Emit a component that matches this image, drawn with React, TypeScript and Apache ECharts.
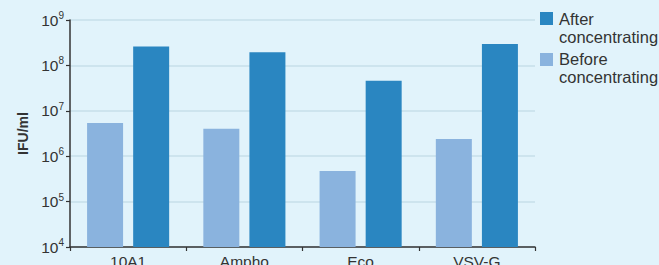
import React, { useEffect, useRef } from "react";
import * as echarts from "echarts";

const categories = ["10A1", "Ampho", "Eco", "VSV-G"];
const beforeValues = [5.4e6, 4.0e6, 4.7e5, 2.4e6];
const afterValues = [2.6e8, 1.94e8, 4.6e7, 2.96e8];
const legendLabels = ["After\nconcentrating", "Before\nconcentrating"];
const yName = "IFU/ml";

const BG = "#E1F3FB";
const C_AFTER = "#2A86C1";
const C_BEFORE = "#8AB3DE";
const TXT = "#333333";
const FONT = "'Liberation Sans', Arial, Helvetica, sans-serif";

export default function App() {
  const ref = useRef<HTMLDivElement>(null);
  useEffect(() => {
    document.body.style.margin = "0";
    const chart = echarts.init(ref.current!, null, { renderer: "svg" });
    chart.setOption({
      animation: false,
      backgroundColor: BG,
      textStyle: { fontFamily: FONT },
      grid: {
        left: 70,
        top: 20,
        right: 124,
        bottom: 18,
        containLabel: false,
        outerBoundsMode: "none",
      },
      xAxis: {
        type: "category",
        data: categories,
        axisLine: { lineStyle: { color: TXT, width: 1.5 } },
        axisTick: { show: true, length: 4, lineStyle: { color: TXT, width: 1.2 } },
        axisLabel: { color: TXT, fontSize: 15.5, margin: 6, fontFamily: FONT },
      },
      yAxis: {
        type: "log",
        logBase: 10,
        min: 1e4,
        max: 1e9,
        name: yName,
        nameLocation: "middle",
        nameGap: 38,
        nameTextStyle: { color: TXT, fontSize: 14, fontWeight: "bold", fontFamily: FONT },
        axisLine: { show: true, lineStyle: { color: TXT, width: 1.5 } },
        axisTick: { show: true, length: 4, lineStyle: { color: TXT, width: 1.2 } },
        splitLine: { show: true, lineStyle: { color: "#C6DFEA", width: 1.5 } },
        minorTick: { show: false },
        axisLabel: {
          margin: 6,
          formatter: (v: number) => {
            const e = Math.round(Math.log10(v));
            return `{b|10}{s|${e}}`;
          },
          rich: {
            b: { fontSize: 15.5, color: TXT, fontFamily: FONT },
            s: { fontSize: 10, color: TXT, fontFamily: FONT, padding: [0, 0, 9, 0] },
          },
        },
      },
      series: [
        {
          name: "Before concentrating",
          type: "bar",
          data: beforeValues,
          barWidth: 36,
          barGap: "28%",
          itemStyle: { color: C_BEFORE },
        },
        {
          name: "After concentrating",
          type: "bar",
          data: afterValues,
          barWidth: 36,
          itemStyle: { color: C_AFTER },
        },
      ],
      graphic: [
        { type: "rect", left: 540, top: 12, shape: { width: 13, height: 13 }, style: { fill: C_AFTER } },
        {
          type: "text",
          left: 559,
          top: 10,
          style: { text: legendLabels[0], fill: TXT, fontSize: 16.5, lineHeight: 18, fontFamily: FONT },
        },
        { type: "rect", left: 540, top: 53, shape: { width: 13, height: 13 }, style: { fill: C_BEFORE } },
        {
          type: "text",
          left: 559,
          top: 50,
          style: { text: legendLabels[1], fill: TXT, fontSize: 16.5, lineHeight: 18, fontFamily: FONT },
        },
      ],
    });
    return () => chart.dispose();
  }, []);
  return <div ref={ref} style={{ width: 659, height: 265 }} />;
}
